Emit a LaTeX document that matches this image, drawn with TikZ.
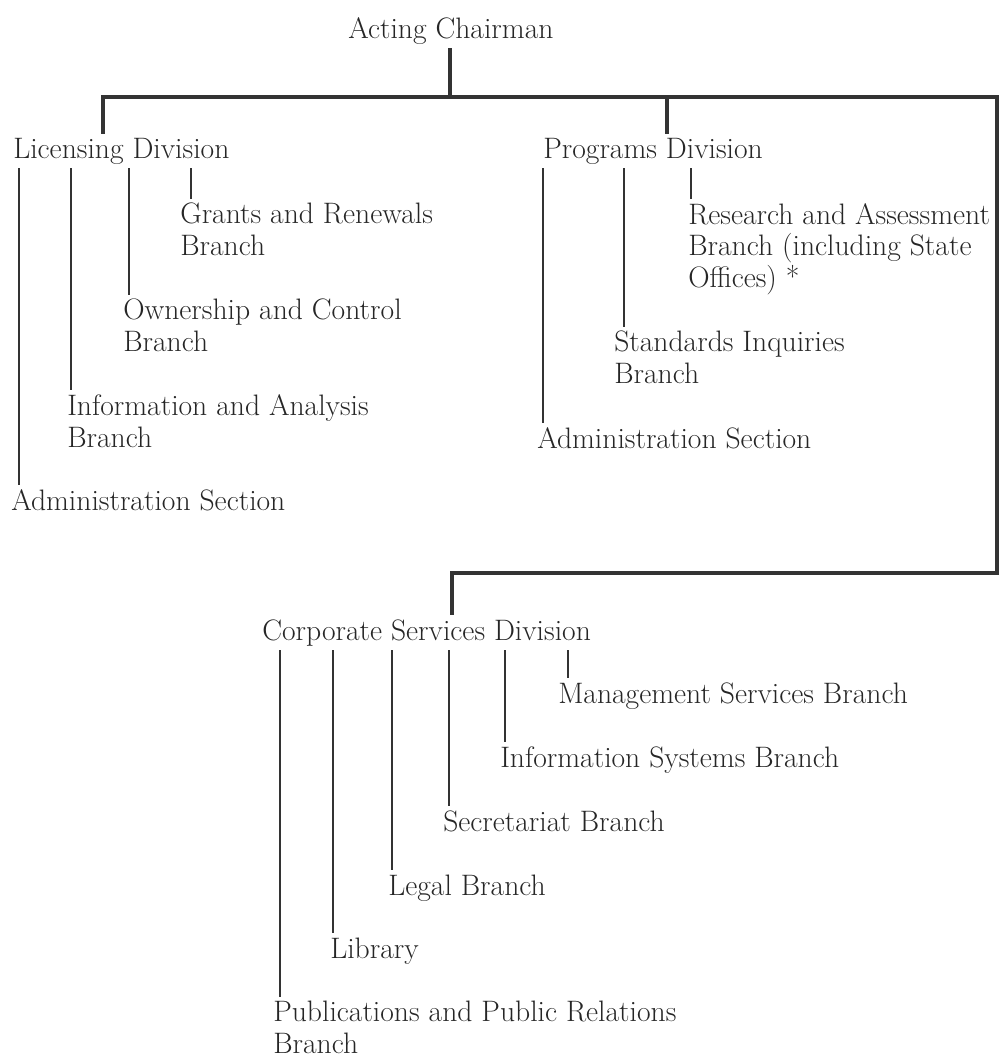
\documentclass[tikz,border=0pt]{standalone}
\usetikzlibrary{positioning,calc}
\definecolor{orgInk}{HTML}{262626}
\definecolor{orgLine}{HTML}{333333}
\tikzset{
  orgunit/.style={
    anchor=base west, inner xsep=0pt, inner ysep=3pt, align=left,
    text=orgInk, font=\fontsize{22.2}{23.6}\selectfont
  },
  mainline/.style={line width=3pt, orgLine},
  subline/.style={line width=1.6pt, orgLine}
}
\begin{document}
\begin{tikzpicture}[x=0.75pt, y=-0.75pt]
  \useasboundingbox (0,0) rectangle (1001,1058);
  % top level (base = last line)
  \node[orgunit] (chair) at (348,38) {Acting Chairman};
  \node[orgunit] (lic) at (13,158) {Licensing Division};
  \node[orgunit] (prog) at (543,158) {Programs Division};
  \node[orgunit] (corp) at (262,640) {Corporate Services Division};
  % licensing branches
  \node[orgunit] (grants) at (180,255) {Grants and Renewals\\Branch};
  \node[orgunit] (own) at (123,351) {Ownership and Control\\Branch};
  \node[orgunit] (info) at (67,447) {Information and Analysis\\Branch};
  \node[orgunit] (ladmin) at (11,510) {Administration Section};
  % programs branches
  \node[orgunit] (research) at (688,287) {Research and Assessment\\Branch (including State\\Offices) *};
  \node[orgunit] (standards) at (614,383) {Standards Inquiries\\Branch};
  \node[orgunit] (padmin) at (537,448) {Administration Section};
  % corporate services branches
  \node[orgunit] (mgmt) at (558,703) {Management Services Branch};
  \node[orgunit] (infosys) at (500,767) {Information Systems Branch};
  \node[orgunit] (secr) at (443,831) {Secretariat Branch};
  \node[orgunit] (legal) at (388,895) {Legal Branch};
  \node[orgunit] (library) at (330,958) {Library};
  \node[orgunit] (pubs) at (273,1053) {Publications and Public Relations\\Branch};
  % trunk
  \coordinate (stem) at (450,97);
  \coordinate (barL) at (103,97);
  \coordinate (barP) at (667,97);
  \coordinate (barR) at (997,97);
  \coordinate (loopR) at (997,573);
  \coordinate (loopL) at (452,573);
  \draw[mainline] (chair.south -| stem) -- (stem);
  \draw[mainline] (barL |- lic.north) -- (barL) -- (barR) -- (loopR) -- (loopL) -- (loopL |- corp.north);
  \draw[mainline] (barP) -- (barP |- prog.north);
  % licensing lines
  \draw[subline] (lic.south -| grants.west) ++(11,0) -- ([shift={(11,0)}]grants.north west);
  \draw[subline] (lic.south -| own.west) ++(6,0) -- ([shift={(6,0)}]own.north west);
  \draw[subline] (lic.south -| info.west) ++(4,0) -- ([shift={(4,0)}]info.north west);
  \draw[subline] (lic.south -| ladmin.west) ++(8,0) -- ([shift={(8,0)}]ladmin.north west);
  % programs lines
  \draw[subline] (prog.south -| research.west) ++(3,0) -- ([shift={(3,0)}]research.north west);
  \draw[subline] (prog.south -| standards.west) ++(10,0) -- ([shift={(10,0)}]standards.north west);
  \draw[subline] (prog.south -| padmin.west) ++(6,0) -- ([shift={(6,0)}]padmin.north west);
  % corporate services lines
  \draw[subline] (corp.south -| mgmt.west) ++(10,0) -- ([shift={(10,0)}]mgmt.north west);
  \draw[subline] (corp.south -| infosys.west) ++(5,0) -- ([shift={(5,0)}]infosys.north west);
  \draw[subline] (corp.south -| secr.west) ++(6,0) -- ([shift={(6,0)}]secr.north west);
  \draw[subline] (corp.south -| legal.west) ++(4,0) -- ([shift={(4,0)}]legal.north west);
  \draw[subline] (corp.south -| library.west) ++(3,0) -- ([shift={(3,0)}]library.north west);
  \draw[subline] (corp.south -| pubs.west) ++(7,0) -- ([shift={(7,0)}]pubs.north west);
\end{tikzpicture}
\end{document}
